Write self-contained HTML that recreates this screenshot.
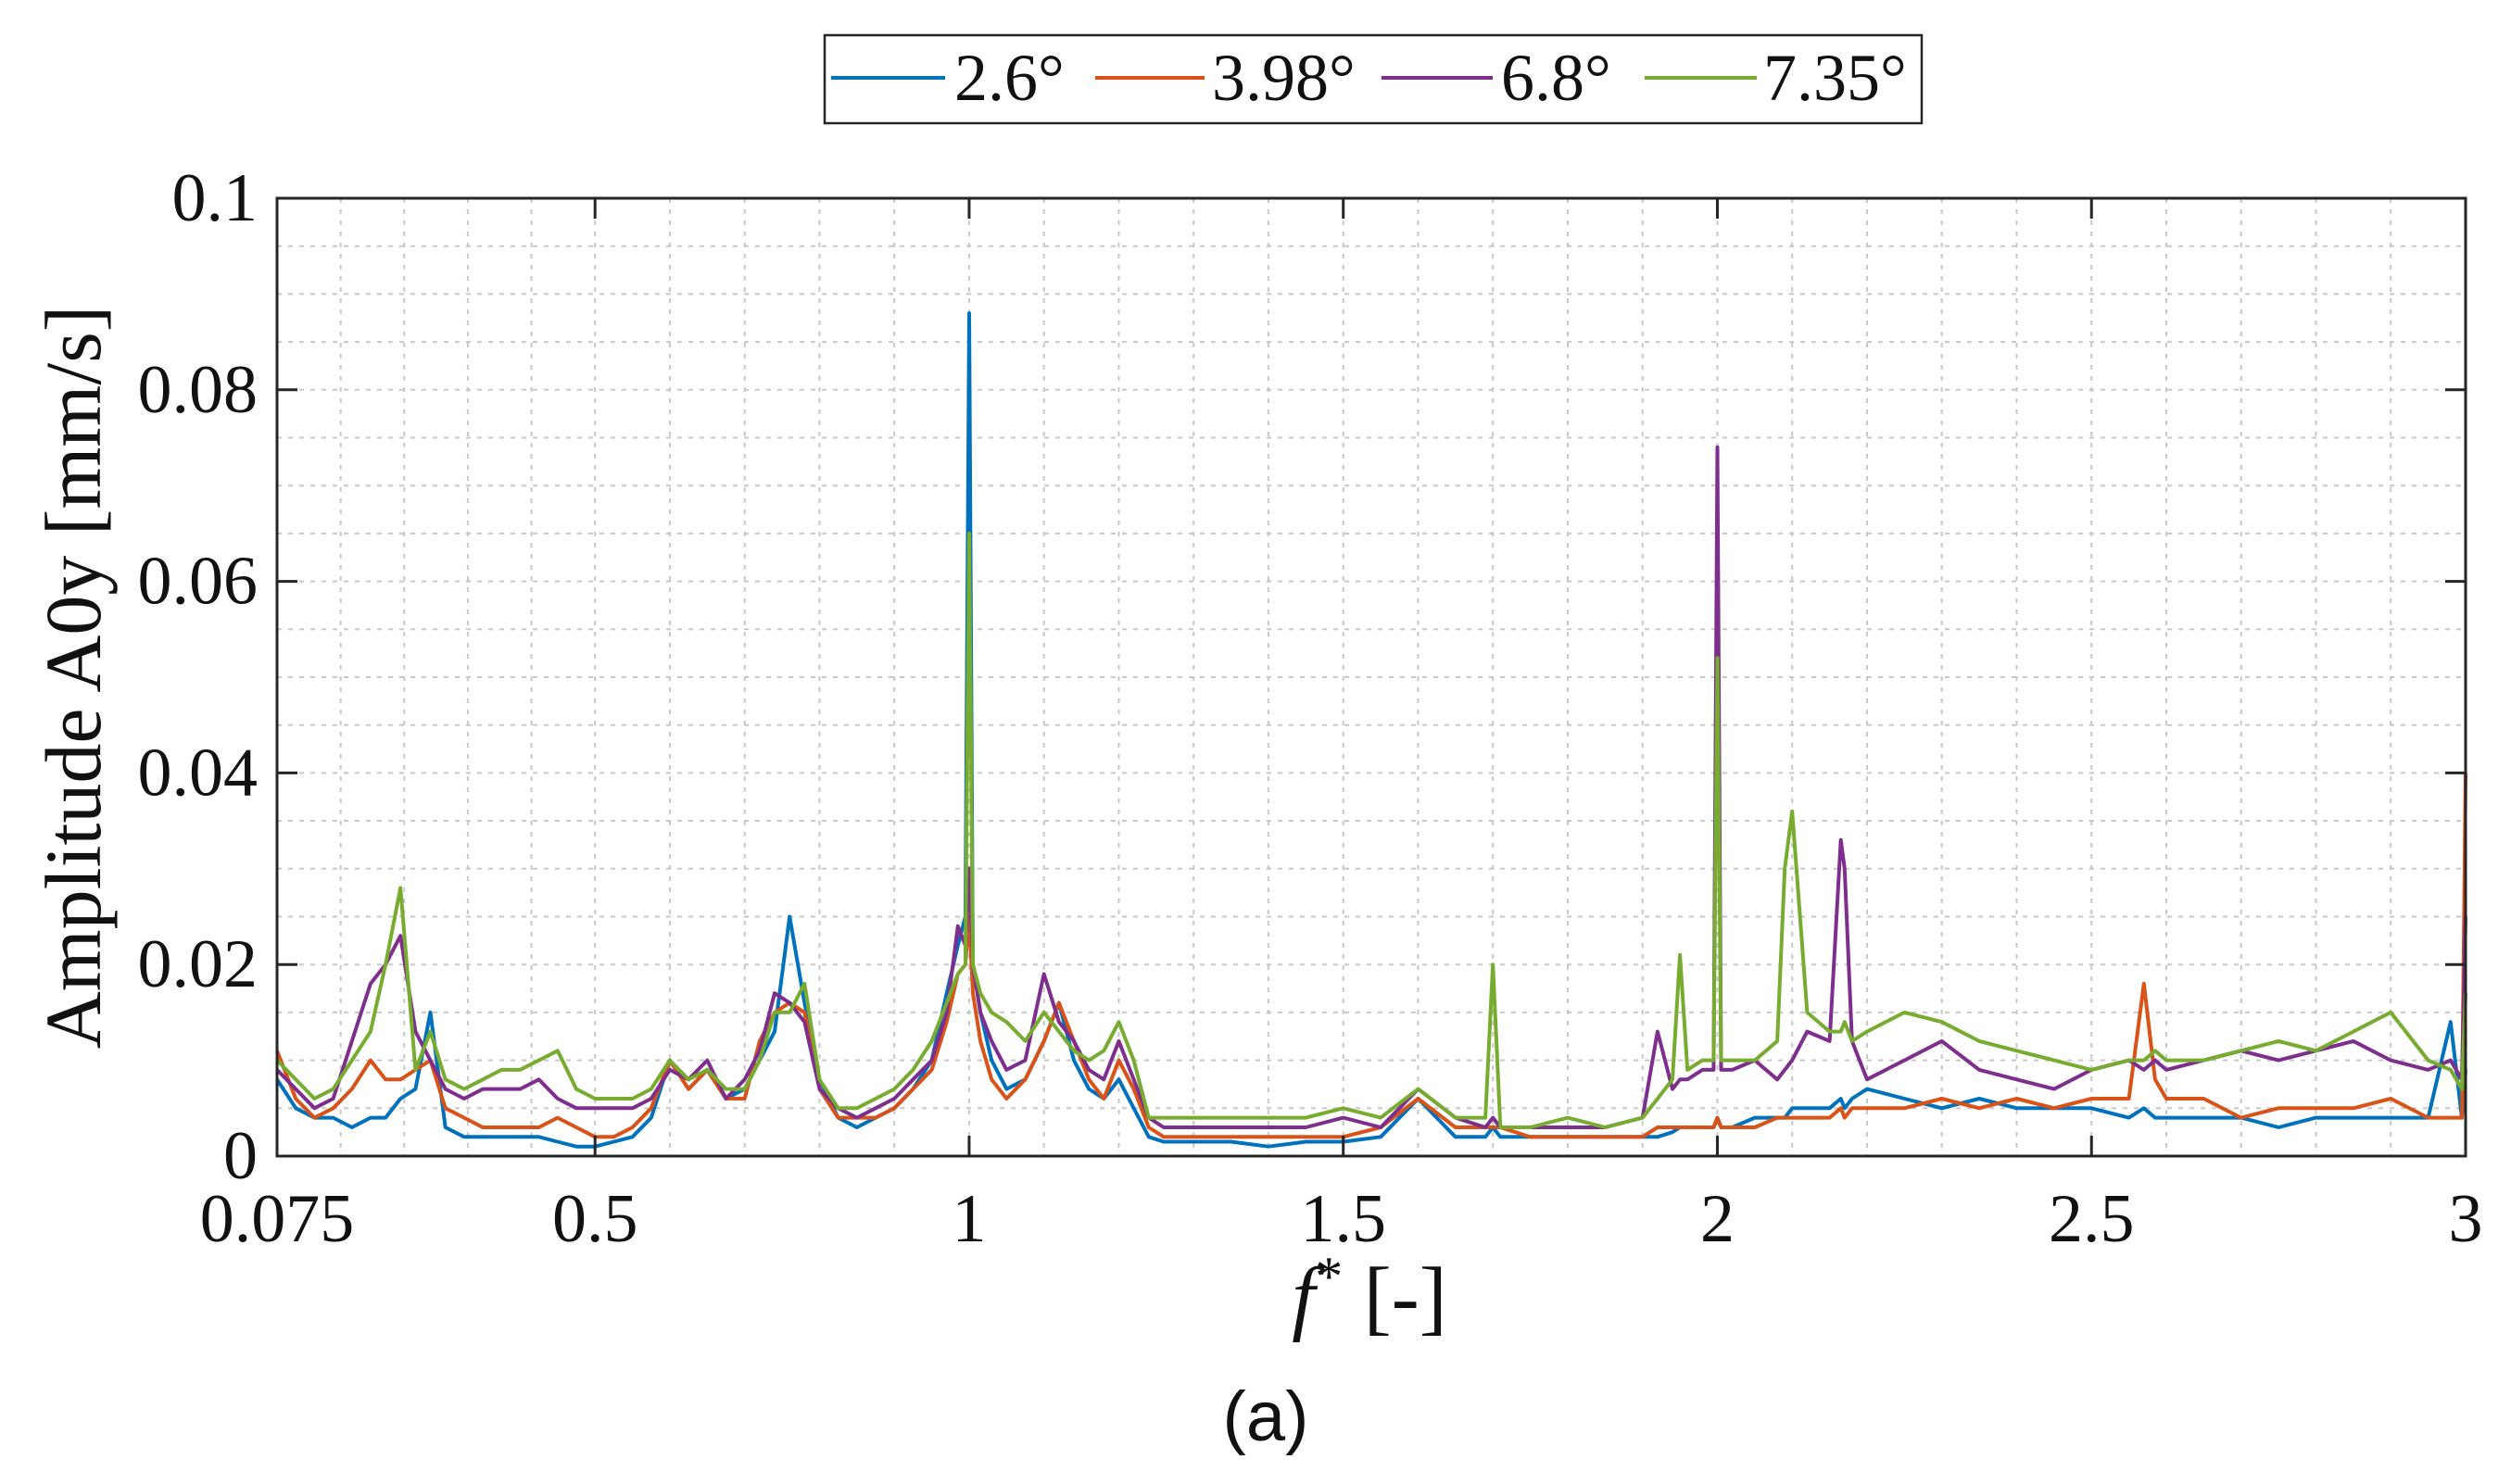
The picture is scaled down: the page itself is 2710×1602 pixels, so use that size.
<!DOCTYPE html>
<html><head><meta charset="utf-8"><style>
body{margin:0;background:#fff}
svg{display:block}
text{font-family:"Liberation Serif",serif;fill:#111}
</style></head><body>
<svg id="chart" width="2710" height="1602" viewBox="0 0 2710 1602" xmlns="http://www.w3.org/2000/svg">
<g id="grid"></g>
<g id="series"></g>
<rect x="299" y="214" width="2362" height="1034" fill="none" stroke="#262626" stroke-width="3"/>
<g id="ticks"></g>
<text transform="translate(108,731) rotate(-90)" text-anchor="middle" font-size="86">Amplitude A0y [mm/s]</text>
<text x="1478" y="1430" text-anchor="middle" font-size="90"><tspan font-style="italic">f</tspan><tspan dy="-32" font-size="60">*</tspan><tspan dy="32"> [-]</tspan></text>
<text x="1366" y="1555" text-anchor="middle" font-size="76" style="font-family:'Liberation Sans',sans-serif">(a)</text>
<g>
<rect x="890" y="38" width="1184" height="95" fill="#fff" stroke="#262626" stroke-width="2.5"/>
<g><line x1="897" y1="84" x2="1020" y2="84" stroke="#0072BD" stroke-width="4"/><text x="1030" y="108" font-size="72">2.6°</text></g>
<g><line x1="1182" y1="84" x2="1300" y2="84" stroke="#D95319" stroke-width="4"/><text x="1308" y="108" font-size="72">3.98°</text></g>
<g><line x1="1491" y1="84" x2="1611" y2="84" stroke="#7E2F8E" stroke-width="4"/><text x="1620" y="108" font-size="72">6.8°</text></g>
<g><line x1="1775" y1="84" x2="1896" y2="84" stroke="#77AC30" stroke-width="4"/><text x="1903" y="108" font-size="72">7.35°</text></g>
</g>
</svg>
<script>
const freqs=[0.075,0.1,0.125,0.15,0.175,0.2,0.22,0.24,0.26,0.28,
0.3,0.325,0.35,0.375,0.4,0.425,0.45,0.475,0.5,0.525,
0.55,0.575,0.6,0.625,0.65,0.675,0.7,0.72,0.74,0.76,
0.78,0.8,0.825,0.85,0.875,0.9,0.925,0.95,0.97,0.985,
0.995,1.0,1.005,1.015,1.03,1.05,1.075,1.1,1.12,1.14,
1.16,1.18,1.2,1.22,1.24,1.26,1.3,1.35,1.4,1.45,
1.5,1.55,1.6,1.65,1.69,1.7,1.71,1.75,1.8,1.85,
1.9,1.92,1.94,1.95,1.96,1.98,1.995,2.0,2.005,2.02,
2.05,2.08,2.09,2.1,2.12,2.15,2.165,2.17,2.18,2.2,
2.25,2.3,2.35,2.4,2.45,2.5,2.55,2.57,2.585,2.6,
2.65,2.7,2.75,2.8,2.85,2.9,2.95,2.98,2.995,3.0];
const amp26=[0.008,0.005,0.004,0.004,0.003,0.004,0.004,0.006,0.007,0.015,
0.003,0.002,0.002,0.002,0.002,0.002,0.0015,0.001,0.001,0.0015,
0.002,0.004,0.01,0.007,0.009,0.006,0.007,0.01,0.013,0.025,
0.016,0.008,0.004,0.003,0.004,0.005,0.007,0.01,0.017,0.022,
0.025,0.088,0.02,0.015,0.01,0.007,0.008,0.012,0.016,0.01,
0.007,0.006,0.008,0.005,0.002,0.0015,0.0015,0.0015,0.001,0.0015,
0.0015,0.002,0.006,0.002,0.002,0.003,0.002,0.002,0.002,0.002,
0.002,0.002,0.0025,0.003,0.003,0.003,0.003,0.004,0.003,0.003,
0.004,0.004,0.004,0.005,0.005,0.005,0.006,0.005,0.006,0.007,
0.006,0.005,0.006,0.005,0.005,0.005,0.004,0.005,0.004,0.004,
0.004,0.004,0.003,0.004,0.004,0.004,0.004,0.014,0.004,0.009];
const amp398=[0.011,0.006,0.004,0.005,0.007,0.01,0.008,0.008,0.009,0.01,
0.005,0.004,0.003,0.003,0.003,0.003,0.004,0.003,0.002,0.002,
0.003,0.005,0.01,0.007,0.009,0.006,0.006,0.012,0.015,0.016,
0.015,0.007,0.004,0.004,0.004,0.005,0.007,0.009,0.014,0.019,
0.02,0.025,0.017,0.012,0.008,0.006,0.008,0.012,0.016,0.012,
0.008,0.006,0.01,0.007,0.003,0.002,0.002,0.002,0.002,0.002,
0.002,0.003,0.006,0.003,0.003,0.003,0.003,0.002,0.002,0.002,
0.002,0.003,0.003,0.003,0.003,0.003,0.003,0.004,0.003,0.003,
0.003,0.004,0.004,0.004,0.004,0.004,0.005,0.004,0.005,0.005,
0.005,0.006,0.005,0.006,0.005,0.006,0.006,0.018,0.008,0.006,
0.006,0.004,0.005,0.005,0.005,0.006,0.004,0.004,0.004,0.04];
const amp68=[0.009,0.007,0.005,0.006,0.012,0.018,0.02,0.023,0.013,0.01,
0.007,0.006,0.007,0.007,0.007,0.008,0.006,0.005,0.005,0.005,
0.005,0.006,0.009,0.008,0.01,0.006,0.008,0.011,0.017,0.016,
0.014,0.007,0.005,0.004,0.005,0.006,0.008,0.01,0.015,0.024,
0.022,0.03,0.02,0.015,0.012,0.009,0.01,0.019,0.014,0.012,
0.009,0.008,0.012,0.008,0.004,0.003,0.003,0.003,0.003,0.003,
0.004,0.003,0.007,0.004,0.003,0.004,0.003,0.003,0.003,0.003,
0.004,0.013,0.007,0.008,0.008,0.009,0.009,0.074,0.009,0.009,
0.01,0.008,0.009,0.01,0.013,0.012,0.033,0.03,0.012,0.008,
0.01,0.012,0.009,0.008,0.007,0.009,0.01,0.009,0.01,0.009,
0.01,0.011,0.01,0.011,0.012,0.01,0.009,0.01,0.008,0.025];
const amp735=[0.01,0.008,0.006,0.007,0.01,0.013,0.02,0.028,0.009,0.013,
0.008,0.007,0.008,0.009,0.009,0.01,0.011,0.007,0.006,0.006,
0.006,0.007,0.01,0.008,0.009,0.007,0.007,0.01,0.015,0.015,
0.018,0.008,0.005,0.005,0.006,0.007,0.009,0.012,0.016,0.019,
0.02,0.065,0.02,0.017,0.015,0.014,0.012,0.015,0.013,0.011,
0.01,0.011,0.014,0.01,0.004,0.004,0.004,0.004,0.004,0.004,
0.005,0.004,0.007,0.004,0.004,0.02,0.003,0.003,0.004,0.003,
0.004,0.006,0.008,0.021,0.009,0.01,0.01,0.052,0.01,0.01,
0.01,0.012,0.03,0.036,0.015,0.013,0.013,0.014,0.012,0.013,
0.015,0.014,0.012,0.011,0.01,0.009,0.01,0.01,0.011,0.01,
0.01,0.011,0.012,0.011,0.013,0.015,0.01,0.009,0.007,0.017];
const xTicks=[0.075,0.5,1,1.5,2,2.5,3];
const xTickLabels=["0.075","0.5","1","1.5","2","2.5","3"];
const yTicks=[0,0.02,0.04,0.06,0.08,0.1];
const yTickLabels=["0","0.02","0.04","0.06","0.08","0.1"];
const xMinor=[0.16,0.245,0.33,0.415,0.6,0.7,0.8,0.9,1.1,1.2,1.3,1.4,1.6,1.7,1.8,1.9,2.1,2.2,2.3,2.4,2.6,2.7,2.8,2.9];
const yMinor=[0.005,0.01,0.015,0.025,0.03,0.035,0.045,0.05,0.055,0.065,0.07,0.075,0.085,0.09,0.095];

const L=299,R=2661,T=214,B=1248;
const xs=v=>L+(v-0.075)/(3-0.075)*(R-L);
const ys=v=>B-v/0.1*(B-T);
const NS="http://www.w3.org/2000/svg";
function mk(tag,attrs,parent){const e=document.createElementNS(NS,tag);for(const k in attrs)e.setAttribute(k,attrs[k]);parent.appendChild(e);return e;}
const grid=document.getElementById('grid'),ticks=document.getElementById('ticks'),ser=document.getElementById('series');
xMinor.concat(xTicks.slice(1,-1)).forEach(v=>{const l=mk('line',{x1:xs(v),x2:xs(v),y1:T,y2:B,stroke:'#c8c8c8','stroke-width':2,'stroke-dasharray':'5 7'},grid);

});
yMinor.concat(yTicks.slice(1,-1)).forEach(v=>{const l=mk('line',{x1:L,x2:R,y1:ys(v),y2:ys(v),stroke:'#c8c8c8','stroke-width':2,'stroke-dasharray':'5 7'},grid);

});
xTicks.forEach((v,i)=>{
mk('line',{x1:xs(v),x2:xs(v),y1:B,y2:B-22,stroke:'#262626','stroke-width':3},ticks);
mk('line',{x1:xs(v),x2:xs(v),y1:T,y2:T+22,stroke:'#262626','stroke-width':3},ticks);
const t=mk('text',{x:xs(v),y:1340,'text-anchor':'middle','font-size':74},ticks);t.textContent=xTickLabels[i];

});
yTicks.forEach((v,i)=>{
mk('line',{x1:L,x2:L+22,y1:ys(v),y2:ys(v),stroke:'#262626','stroke-width':3},ticks);
mk('line',{x1:R,x2:R-22,y1:ys(v),y2:ys(v),stroke:'#262626','stroke-width':3},ticks);
const t=mk('text',{x:278,y:ys(v)+24,'text-anchor':'end','font-size':74},ticks);t.textContent=yTickLabels[i];

});
const seriesList=[[amp26,'#0072BD','series-2-6deg'],[amp398,'#D95319','series-3-98deg'],[amp68,'#7E2F8E','series-6-8deg'],[amp735,'#77AC30','series-7-35deg']];
seriesList.forEach(([arr,col,name])=>{
const d=arr.map((v,i)=>(i?'L':'M')+xs(freqs[i]).toFixed(1)+','+ys(v).toFixed(1)).join('');
const p=mk('path',{d:d,fill:'none',stroke:col,'stroke-width':4,'stroke-linejoin':'round'},ser);

});
</script>
</body></html>
